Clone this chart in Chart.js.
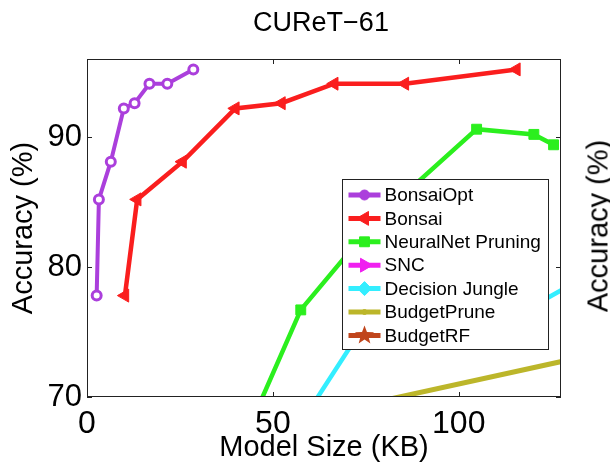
<!DOCTYPE html>
<html lang="en">
<head>
    <meta charset="UTF-8">
    <title>CUReT-61</title>
    <!-- Chart.js -->
    <script src="https://cdn.jsdelivr.net/npm/chart.js"></script>
    <style>
        html, body {
            margin: 0;
            padding: 0;
            background: #fff;
            overflow: hidden;
        }

        .cadre {
            position: relative;
            width: 610px;
            height: 470px;
        }

        /* titre du graphique voisin, coupé par le bord */
        #etiquetteVoisine {
            position: absolute;
            left: 598px;
            top: 226px;
            transform: translate(-50%, -50%) rotate(-90deg);
            font: 29px "Liberation Sans", Arial, sans-serif;
            line-height: 29px;
            white-space: nowrap;
            color: #000;
        }
    </style>
</head>
<body>
    <div class="cadre">
        <canvas id="graphique" width="610" height="470"></canvas>
        <div id="etiquetteVoisine">Accuracy (%)</div>
    </div>

    <script>
        // Données (taille en KB, précision en %)
        const tailleBonsaiOpt = [2.6, 3.2, 6.4, 9.9, 12.8, 16.8, 21.6, 28.6];
        const precisionBonsaiOpt = [77.8, 85.2, 88.1, 92.2, 92.6, 94.1, 94.1, 95.2];

        const tailleBonsai = [10.2, 13.5, 25.7, 39.9, 52.3, 66.5, 85.5, 115.5];
        const precisionBonsai = [77.8, 85.2, 88.1, 92.2, 92.6, 94.1, 94.1, 95.2];

        const tailleNeuralNet = [44.0, 57.5, 78.0, 104.8, 120.2, 125.5];
        const precisionNeuralNet = [67.9, 76.7, 83.7, 90.6, 90.2, 89.4];

        const tailleSNC = [];
        const precisionSNC = [];

        const tailleJungle = [58.0, 75.0, 120.0, 135.0];
        const precisionJungle = [68.2, 75.7, 77.0, 79.4];

        const tailleBudgetPrune = [60.0, 140.0];
        const precisionBudgetPrune = [68.5, 73.5];

        const tailleBudgetRF = [];
        const precisionBudgetRF = [];

        // Graduations des axes
        const xMin = 0, xMax = 127.5, xPas = 50;
        const yMin = 70, yMax = 96, yPas = 10;

        const police = '"Liberation Sans", Arial, sans-serif';
        Chart.defaults.font.family = police;
        Chart.defaults.color = '#000';

        const points = (xs, ys) => xs.map((x, i) => ({ x: x, y: ys[i] }));

        // Étoile à 5 branches pour la légende BudgetRF
        function etoile(ctx, cx, cy, r) {
            ctx.beginPath();
            for (let i = 0; i < 10; i++) {
                const a = -Math.PI / 2 + i * Math.PI / 5;
                const rr = i % 2 === 0 ? r : r * 0.42;
                ctx.lineTo(cx + Math.cos(a) * rr, cy + Math.sin(a) * rr);
            }
            ctx.closePath();
            ctx.fill();
        }

        // Cadre noir avec graduations vers l'intérieur, puis légende
        const cadreEtLegende = {
            id: 'cadreEtLegende',
            afterDatasetsDraw(chart) {
                const ctx = chart.ctx;
                const a = chart.chartArea;
                const sx = chart.scales.x, sy = chart.scales.y;
                ctx.save();
                ctx.strokeStyle = '#222';
                ctx.lineWidth = 1;
                ctx.strokeRect(a.left + 0.5, a.top + 0.5, a.right - a.left - 1, a.bottom - a.top - 1);
                ctx.beginPath();
                sx.ticks.forEach(t => {
                    const px = Math.round(sx.getPixelForValue(t.value)) + 0.5;
                    ctx.moveTo(px, a.bottom); ctx.lineTo(px, a.bottom - 5);
                    ctx.moveTo(px, a.top); ctx.lineTo(px, a.top + 5);
                });
                sy.ticks.forEach(t => {
                    const py = Math.round(sy.getPixelForValue(t.value)) + 0.5;
                    ctx.moveTo(a.left, py); ctx.lineTo(a.left + 5, py);
                    ctx.moveTo(a.right, py); ctx.lineTo(a.right - 5, py);
                });
                ctx.stroke();

                // Légende
                const lw = 206, lh = 170;
                const lx = a.right - 13 - lw + 0.5;
                const ly = a.top + 120 + 0.5;
                ctx.fillStyle = '#fff';
                ctx.fillRect(lx, ly, lw, lh);
                ctx.strokeStyle = '#222';
                ctx.strokeRect(lx, ly, lw, lh);

                ctx.font = '19px ' + police;
                ctx.textBaseline = 'middle';
                ctx.textAlign = 'left';
                chart.data.datasets.forEach((ds, i) => {
                    const y = ly + 15.5 + i * 23.4;
                    ctx.strokeStyle = ds.borderColor;
                    ctx.lineWidth = 5;
                    ctx.beginPath();
                    ctx.moveTo(lx + 6, y);
                    ctx.lineTo(lx + 38, y);
                    ctx.stroke();
                    ctx.fillStyle = ds.borderColor;
                    ctx.lineWidth = 1;
                    if (ds.legendeEtoile) {
                        etoile(ctx, lx + 22, y, 10);
                    } else {
                        Chart.helpers.drawPoint(ctx, {
                            pointStyle: ds.legendeForme,
                            radius: ds.legendeRayon,
                            rotation: ds.pointRotation || 0,
                            borderWidth: 1
                        }, lx + 22, y);
                    }
                    ctx.fillStyle = '#000';
                    ctx.fillText(ds.label, lx + 42, y + 1);
                });

                // Titre centré sur la zone de tracé
                ctx.font = '27px ' + police;
                ctx.textAlign = 'center';
                ctx.fillText('CUReT\u221261', (a.left + a.right) / 2 - 3, 24);
                ctx.restore();
            }
        };

        const ctxGraphique = document.getElementById('graphique').getContext('2d');

        const monGraphique = new Chart(ctxGraphique, {
            type: 'line',
            data: {
                datasets: [{
                    label: 'BonsaiOpt',
                    data: points(tailleBonsaiOpt, precisionBonsaiOpt),
                    borderColor: '#ab3fdc',
                    backgroundColor: '#ffffff',
                    borderWidth: 4,
                    pointStyle: 'circle',
                    pointRadius: 4.5,
                    pointBorderWidth: 3,
                    legendeForme: 'circle',
                    legendeRayon: 5
                }, {
                    label: 'Bonsai',
                    data: points(tailleBonsai, precisionBonsai),
                    borderColor: '#fa1e1e',
                    backgroundColor: '#fa1e1e',
                    borderWidth: 4.5,
                    pointStyle: 'triangle',
                    pointRotation: -90,
                    pointRadius: 7.5,
                    pointBorderWidth: 1,
                    legendeForme: 'triangle',
                    legendeRayon: 8
                }, {
                    label: 'NeuralNet Pruning',
                    data: points(tailleNeuralNet, precisionNeuralNet),
                    borderColor: '#2bef1e',
                    backgroundColor: '#2bef1e',
                    borderWidth: 4.5,
                    pointStyle: 'rect',
                    pointRadius: 7,
                    pointBorderWidth: 1,
                    legendeForme: 'rect',
                    legendeRayon: 7
                }, {
                    label: 'SNC',
                    data: points(tailleSNC, precisionSNC),
                    borderColor: '#f020f0',
                    backgroundColor: '#f020f0',
                    borderWidth: 4.5,
                    pointStyle: 'triangle',
                    pointRotation: 90,
                    pointRadius: 7.5,
                    legendeForme: 'triangle',
                    legendeRayon: 8
                }, {
                    label: 'Decision Jungle',
                    data: points(tailleJungle, precisionJungle),
                    borderColor: '#33eeff',
                    backgroundColor: '#33eeff',
                    borderWidth: 4.5,
                    pointStyle: 'rectRot',
                    pointRadius: 6,
                    legendeForme: 'rectRot',
                    legendeRayon: 7
                }, {
                    label: 'BudgetPrune',
                    data: points(tailleBudgetPrune, precisionBudgetPrune),
                    borderColor: '#bcb62a',
                    backgroundColor: '#bcb62a',
                    borderWidth: 5,
                    pointStyle: 'circle',
                    pointRadius: 2,
                    legendeForme: 'circle',
                    legendeRayon: 2.5
                }, {
                    label: 'BudgetRF',
                    data: points(tailleBudgetRF, precisionBudgetRF),
                    borderColor: '#c0451c',
                    backgroundColor: '#c0451c',
                    borderWidth: 4.5,
                    pointRadius: 6,
                    legendeEtoile: true
                }]
            },
            options: {
                responsive: false,
                animation: false,
                devicePixelRatio: 1,
                clip: 0,
                layout: {
                    padding: { top: 59, right: 49, left: 0, bottom: 0 }
                },
                plugins: {
                    legend: { display: false },
                    title: { display: false },
                    tooltip: { enabled: false }
                },
                elements: {
                    line: { tension: 0 }
                },
                scales: {
                    x: {
                        type: 'linear',
                        min: xMin,
                        max: xMax,
                        grid: { display: false, drawTicks: false },
                        border: { display: false },
                        ticks: {
                            stepSize: xPas,
                            includeBounds: false,
                            maxRotation: 0,
                            padding: 8,
                            font: { size: 32 }
                        },
                        title: {
                            display: true,
                            text: 'Model Size (KB)',
                            font: { size: 29 },
                            padding: { top: 0, bottom: 5 }
                        },
                        afterFit(s) { s.height = 73; }
                    },
                    y: {
                        min: yMin,
                        max: yMax,
                        grid: { display: false, drawTicks: false },
                        border: { display: false },
                        ticks: {
                            stepSize: yPas,
                            includeBounds: false,
                            padding: 5,
                            font: { size: 31 }
                        },
                        title: {
                            display: true,
                            text: 'Accuracy (%)',
                            font: { size: 29 },
                            padding: { top: 7, bottom: 0 }
                        },
                        afterFit(s) { s.width = 87; }
                    }
                }
            },
            plugins: [cadreEtLegende]
        });
    </script>
</body>
</html>
